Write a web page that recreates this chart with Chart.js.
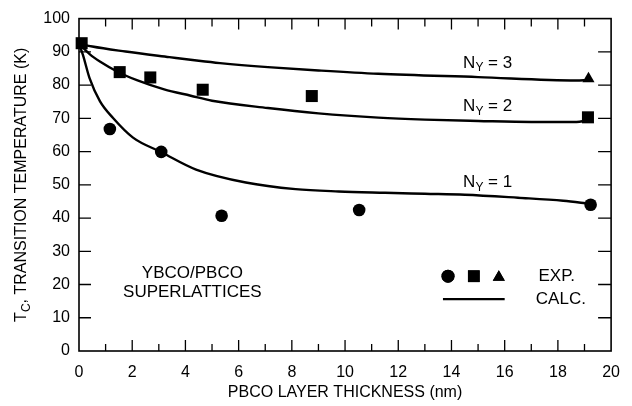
<!DOCTYPE html>
<html><head><meta charset="utf-8">
<script src="https://cdn.jsdelivr.net/npm/chart.js@4"></script>
<style>html,body{margin:0;padding:0;background:#fff}</style>
</head><body>
<canvas id="c" width="632" height="406"></canvas>
<script>
// ---- data ----
const xTicks = [0, 2, 4, 6, 8, 10, 12, 14, 16, 18, 20];
const yTicks = [0, 10, 20, 30, 40, 50, 60, 70, 80, 90, 100];

const expN1X = [1.16, 3.09, 5.36, 10.53, 19.23];
const expN1Y = [66.8, 59.9, 40.7, 42.4, 44.0];
const expN2X = [0.1, 1.53, 2.68, 4.65, 8.75, 19.13];
const expN2Y = [92.6, 83.9, 82.3, 78.6, 76.7, 70.3];
const expN3X = [19.15];
const expN3Y = [81.9];

const calcN1X = [0, 0.15, 0.4, 0.79, 1.28, 2.03, 3.1, 4.4, 6.27, 8.14, 9.76, 11.5, 13.0, 14.5, 16.5, 18.2, 19.2];
const calcN1Y = [92.5, 89.0, 82.0, 75.1, 70.1, 64.2, 59.8, 54.6, 50.7, 48.7, 48.0, 47.6, 47.3, 47.0, 46.1, 45.2, 44.3];
const calcN2X = [0, 0.4, 0.8, 1.5, 2.2, 3.2, 4.2, 5.0, 7.1, 9.0, 11.25, 13.0, 15.0, 17.0, 18.7, 19.1];
const calcN2Y = [92.5, 89.3, 87.0, 83.8, 81.4, 78.7, 76.8, 75.3, 73.1, 71.5, 70.2, 69.6, 69.2, 68.9, 68.9, 69.4];
const calcN3X = [0, 0.5, 1.75, 3.4, 4.5, 5.3, 7.1, 9.0, 11.25, 15.0, 18.7, 19.1];
const calcN3Y = [92.5, 91.6, 90.1, 88.4, 87.3, 86.6, 85.4, 84.4, 83.4, 82.4, 81.4, 81.5];

const curveLabels = ['1', '2', '3'];

const pts = (xs, ys) => xs.map((x, i) => ({x, y: ys[i]}));
const FONT = '"Liberation Sans", Arial, Helvetica, sans-serif';

const lineDs = (xs, ys) => ({
  type: 'line', data: pts(xs, ys), borderColor: '#000', borderWidth: 2.4,
  pointRadius: 0, fill: false, cubicInterpolationMode: 'monotone', showLine: true
});
const markDs = (xs, ys, style, r) => ({
  data: pts(xs, ys), pointStyle: style, pointRadius: r, pointHoverRadius: r,
  backgroundColor: '#000', borderColor: '#000', borderWidth: 0, clip: false, showLine: false
});

const decor = {
  id: 'decor',
  afterDraw(chart) {
    const {ctx, chartArea: a, scales: {x, y}} = chart;
    const X = v => x.getPixelForValue(v), Y = v => y.getPixelForValue(v);
    ctx.save();
    ctx.strokeStyle = '#000'; ctx.fillStyle = '#000';
    ctx.lineWidth = 1.6;
    ctx.strokeRect(a.left, a.top, a.right - a.left, a.bottom - a.top);
    ctx.lineWidth = 1.3;
    ctx.beginPath();
    for (let v = 1; v < 20; v++) {
      const p = X(v), major = v % 2 === 0;
      ctx.moveTo(p, a.bottom); ctx.lineTo(p, a.bottom - (major ? 11 : 7));
      ctx.moveTo(p, a.top); ctx.lineTo(p, a.top + (major ? 11 : 8));
    }
    for (let v = 10; v < 100; v += 10) {
      const p = Y(v);
      ctx.moveTo(a.left, p); ctx.lineTo(a.left + 12, p);
      ctx.moveTo(a.right, p); ctx.lineTo(a.right - 13, p);
    }
    ctx.stroke();

    // y axis title with subscript
    ctx.save();
    ctx.translate(22, (a.top + a.bottom) / 2);
    ctx.rotate(-Math.PI / 2);
    const big = '16px ' + FONT, small = '12px ' + FONT;
    ctx.font = big; const wT = ctx.measureText('T').width;
    const rest = ', TRANSITION TEMPERATURE (K)'; const wR = ctx.measureText(rest).width;
    ctx.font = small; const wC = ctx.measureText('C').width;
    let sx = -(wT + wC + wR) / 2;
    ctx.textBaseline = 'middle'; ctx.textAlign = 'left';
    ctx.font = big; ctx.fillText('T', sx, 0); sx += wT;
    ctx.font = small; ctx.fillText('C', sx, 5); sx += wC;
    ctx.font = big; ctx.fillText(rest, sx, 0);
    ctx.restore();

    // curve labels N_Y = n
    const labY = [50.7, 73.6, 86.6];
    curveLabels.forEach((n, i) => {
      const cx = X(15.36), cy = Y(labY[i]);
      ctx.font = '17px ' + FONT; const wN = ctx.measureText('N').width;
      const tail = ' = ' + n; const wTail = ctx.measureText(tail).width;
      ctx.font = '12px ' + FONT; const wY = ctx.measureText('Y').width;
      let s = cx - (wN + wY + wTail) / 2;
      ctx.textBaseline = 'middle'; ctx.textAlign = 'left';
      ctx.font = '17px ' + FONT; ctx.fillText('N', s, cy); s += wN;
      ctx.font = '12px ' + FONT; ctx.fillText('Y', s, cy + 5); s += wY;
      ctx.font = '17px ' + FONT; ctx.fillText(tail, s, cy);
    });

    // annotation text
    ctx.font = '17px ' + FONT; ctx.textAlign = 'center'; ctx.textBaseline = 'middle';
    ctx.fillText('YBCO/PBCO', X(4.26), Y(23.4));
    ctx.fillText('SUPERLATTICES', X(4.26), Y(17.7));

    // legend
    const ly = Y(22.5);
    Chart.helpers.drawPoint(ctx, {pointStyle: 'circle', radius: 6.5, borderWidth: 0}, X(13.87), ly);
    ctx.fill();
    Chart.helpers.drawPoint(ctx, {pointStyle: 'rect', radius: 8.3, borderWidth: 0}, X(14.84), ly);
    ctx.fill();
    Chart.helpers.drawPoint(ctx, {pointStyle: 'triangle', radius: 7, borderWidth: 0}, X(15.78), ly + 1);
    ctx.fill();
    ctx.lineWidth = 2.4;
    ctx.beginPath(); ctx.moveTo(X(13.68), Y(15.6)); ctx.lineTo(X(16.0), Y(15.6)); ctx.stroke();
    ctx.textAlign = 'left';
    ctx.fillText('EXP.', X(17.27), ly);
    ctx.fillText('CALC.', X(17.17), Y(15.5));
    ctx.restore();
  }
};

new Chart(document.getElementById('c'), {
  type: 'scatter',
  data: {
    datasets: [
      lineDs(calcN1X, calcN1Y), lineDs(calcN2X, calcN2Y), lineDs(calcN3X, calcN3Y),
      markDs(expN1X, expN1Y, 'circle', 6.3),
      markDs(expN2X, expN2Y, 'rect', 8.5),
      markDs(expN3X, expN3Y, 'triangle', 7)
    ]
  },
  options: {
    responsive: false, animation: false, devicePixelRatio: 1,
    layout: {padding: {left: 0, top: 17, right: 18, bottom: 0}},
    plugins: {legend: {display: false}, tooltip: {enabled: false}},
    scales: {
      x: {
        type: 'linear', min: 0, max: 20,
        afterBuildTicks: s => { s.ticks = xTicks.map(v => ({value: v})); },
        afterFit: s => { s.height = 55; },
        grid: {display: false, drawTicks: false},
        border: {display: false},
        ticks: {color: '#000', font: {family: FONT, size: 16}, padding: 12, maxRotation: 0},
        title: {display: true, text: 'PBCO LAYER THICKNESS (nm)', color: '#000',
                font: {family: FONT, size: 16}, padding: {top: 0, bottom: 4}}
      },
      y: {
        type: 'linear', min: 0, max: 100,
        afterBuildTicks: s => { s.ticks = yTicks.map(v => ({value: v})); },
        afterFit: s => { s.width = 79; },
        grid: {display: false, drawTicks: false},
        border: {display: false},
        ticks: {color: '#000', font: {family: FONT, size: 16}, padding: 9}
      }
    }
  },
  plugins: [decor]
});
</script>
</body></html>
